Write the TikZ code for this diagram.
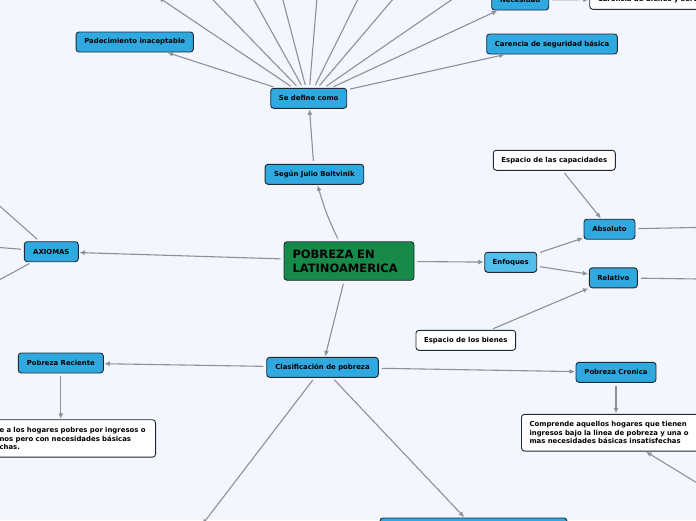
\documentclass[tikz,border=0pt]{standalone}
\usepackage{fontspec}
\setmainfont{DejaVu Sans}
\usetikzlibrary{arrows.meta}
\definecolor{bg}{HTML}{F3F6FE}
\definecolor{nodeblue}{HTML}{30A9E1}
\definecolor{lightblue}{HTML}{52BEEC}
\definecolor{rootgreen}{HTML}{178A4A}
\definecolor{edgedark}{HTML}{1F2A33}
\definecolor{conncol}{HTML}{8E9099}
\tikzset{
  box/.style={draw=edgedark, line width=0.9pt, rounded corners=3pt, fill=nodeblue,
    font=\fontsize{6.9}{8.6}\selectfont\bfseries, text=black, minimum height=20pt,
    inner sep=0pt, align=center},
  wbox/.style={box, fill=white},
  desc/.style={box, fill=white, align=left, inner xsep=8pt, inner ysep=4pt},
  arrowc/.style={draw=conncol, line width=1.1pt, shorten <=3pt, shorten >=0.5pt,
    -{Latex[length=5.5pt,width=5pt]}},
  linkc/.style={draw=conncol, line width=1.1pt, shorten <=3pt},
}
\begin{document}
\begin{tikzpicture}[x=1pt,y=-1pt]
\fill[bg] (0,0) rectangle (696,520);
\useasboundingbox (0,0) rectangle (696,520);
\clip (0,0) rectangle (696,520);

% nodes
\node[box, fill=rootgreen, minimum width=130pt, minimum height=38.5pt,
  font=\fontsize{11.5}{14}\selectfont\bfseries, align=left, text width=113pt,
  inner xsep=8.5pt] (root) at (349,261) {POBREZA EN\\LATINOAMERICA};
\node[box, minimum width=98.7pt] (sjb) at (314.4,174.3) {Según Julio Boltvinik};
\node[box, minimum width=76pt] (sdc) at (308.7,98.3) {Se define como};
\node[box, minimum width=117.3pt] (pad) at (134.7,42) {Padecimiento inaceptable};
\node[box, minimum width=130.6pt] (csb) at (552,44) {Carencia de seguridad básica};
\node[box, minimum width=57pt] (nec) at (520.2,0) {Necesidad};
\node[wbox, anchor=west, inner xsep=8pt] (cbs) at (589.3,-0.7) {Carencia de bienes y servicios};
\node[wbox, minimum width=122pt] (cap) at (554.3,160.3) {Espacio de las capacidades};
\node[box, minimum width=51pt] (abs) at (609.5,229.2) {Absoluto};
\node[box, fill=lightblue, minimum width=52pt] (enf) at (510.7,262.3) {Enfoques};
\node[box, minimum width=48pt] (rel) at (613.3,277.8) {Relativo};
\node[wbox, minimum width=99.7pt] (bie) at (465.8,340.3) {Espacio de los bienes};
\node[box, minimum width=54pt] (axi) at (51.3,251.7) {AXIOMAS};
\node[box, minimum width=111.6pt] (cla) at (322.5,367.3) {Clasificación de pobreza};
\node[box, minimum width=85pt] (rec) at (60.8,363) {Pobreza Reciente};
\node[box, minimum width=80pt] (cro) at (616,372.3) {Pobreza Cronica};
\node[desc, anchor=north east, text width=148pt, minimum height=37.4pt] (rcd) at (156,419.3)
  {e a los hogares pobres por ingresos o\\nos pero con necesidades básicas\\chas.};
\node[desc, text width=171pt, minimum height=36.7pt] (crd) at (615,432.7)
  {Comprende aquellos hogares que tienen\\ingresos bajo la linea de pobreza y una o\\mas necesidades básicas insatisfechas};
\node[box, minimum width=187pt, minimum height=18pt] (low) at (473.5,527) {};

% off-picture ends
\coordinate (f1) at (158,-3);
\coordinate (f2) at (198.5,-15);
\coordinate (f3) at (245.7,-15);
\coordinate (f4) at (279,-15);
\coordinate (f5) at (318,-15);
\coordinate (f6) at (365,-15);
\coordinate (f7) at (405,-15);
\coordinate (f8) at (473,-15);
\coordinate (a1) at (-20,188.6);
\coordinate (a2) at (-20,245.9);
\coordinate (a3) at (-20,290.3);
\coordinate (absr) at (720,227);
\coordinate (relr) at (720,279.3);
\coordinate (lr) at (720,497);
\coordinate (ll) at (202,525);

% connectors
\draw[arrowc] (root) to[bend left=5] (sjb);
\draw[arrowc] (sjb) -- (sdc);
\draw[arrowc] (sdc) -- (pad);
\draw[arrowc] (sdc) -- (csb);
\draw[arrowc] (sdc) -- (nec);
\draw[arrowc] (nec) -- (cbs);
\foreach \f in {f1,f2,f3,f4,f5,f6,f7,f8} \draw[arrowc] (sdc) -- (\f);
\draw[arrowc] (root) -- (axi);
\draw[linkc] (axi) -- (a1);
\draw[linkc] (axi) -- (a2);
\draw[linkc] (axi) -- (a3);
\draw[arrowc] (root) -- (enf);
\draw[arrowc] (enf) -- (abs);
\draw[arrowc] (enf) -- (rel);
\draw[arrowc] (cap) -- (abs);
\draw[arrowc] (bie) -- (rel);
\draw[linkc] (abs) -- (absr);
\draw[linkc] (rel) -- (relr);
\draw[arrowc] (root) -- (cla);
\draw[arrowc] (cla) -- (rec);
\draw[arrowc] (cla) -- (cro);
\draw[arrowc] (rec) -- (rec |- rcd.north);
\draw[arrowc] (cro) -- (cro |- crd.north);
\draw[arrowc] (lr) -- (crd);
\draw[arrowc] (cla) -- (ll);
\draw[arrowc] (cla) -- (low);
\end{tikzpicture}
\end{document}
